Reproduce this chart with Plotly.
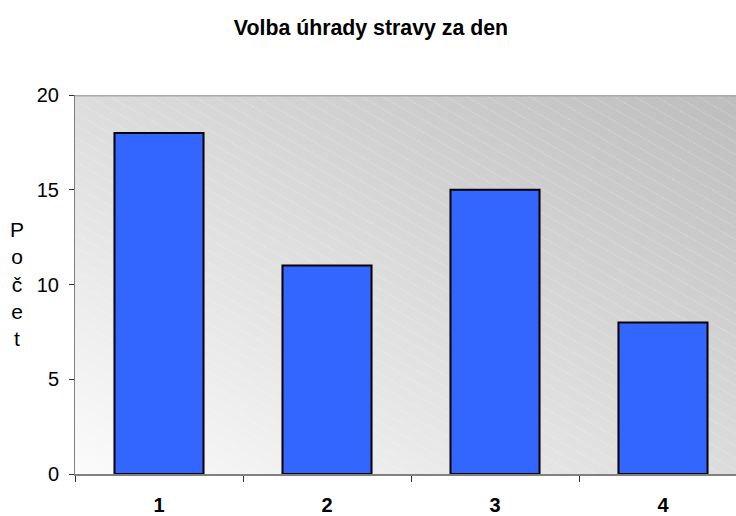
import base64
import plotly.graph_objects as go

# Data
categories = ["1", "2", "3", "4"]
counts = [18, 11, 15, 8]
y_ticks = [0, 5, 10, 15, 20]
title_text = "Volba úhrady stravy za den"
y_title_letters = ["P", "o", "č", "e", "t"]

W, H = 736, 516
ML, MR, MT, MB = 75, 0, 95, 42
PW, PH = W - ML - MR, H - MT - MB

svg = f"""<svg xmlns='http://www.w3.org/2000/svg' width='{PW}' height='{PH}' viewBox='0 0 {PW} {PH}' preserveAspectRatio='none'>
<defs>
<linearGradient id='g' x1='1' y1='0' x2='0' y2='1'>
<stop offset='0' stop-color='#bdbdbd'/>
<stop offset='1' stop-color='#fbfbfb'/>
</linearGradient>
<pattern id='p' patternUnits='userSpaceOnUse' width='40' height='10.5' patternTransform='rotate(30)'>
<line x1='0' y1='5' x2='40' y2='5' stroke='#ffffff' stroke-opacity='0.35' stroke-width='1' stroke-dasharray='1.5,1.5'/>
</pattern>
</defs>
<rect x='0' y='0' width='{PW}' height='{PH}' fill='url(#g)'/>
<rect x='0' y='0' width='{PW}' height='{PH}' fill='url(#p)'/>
<line x1='0' y1='0.75' x2='{PW}' y2='0.75' stroke='#a8a8a8' stroke-width='1.5'/>
</svg>"""
bg_uri = "data:image/svg+xml;base64," + base64.b64encode(svg.encode("utf-8")).decode("ascii")

FONT = "Arial, 'Liberation Sans', sans-serif"

fig = go.Figure()
fig.add_trace(go.Bar(
    x=categories, y=counts,
    marker=dict(color="#3366FF", line=dict(color="#000000", width=2)),
    width=0.53,
    hoverinfo="x+y",
))

fig.update_layout(
    width=W, height=H,
    margin=dict(l=ML, r=MR, t=MT, b=MB, pad=0, autoexpand=False),
    paper_bgcolor="#ffffff",
    plot_bgcolor="rgba(0,0,0,0)",
    showlegend=False,
    font=dict(family=FONT, color="#000000"),
    title=dict(
        text=title_text,
        x=0.504, xref="container", xanchor="center",
        y=1 - 28 / H, yref="container", yanchor="middle",
        font=dict(family=FONT, size=21.3, weight="bold", color="#000000"),
        automargin=False,
    ),
    images=[dict(
        source=bg_uri, xref="paper", yref="paper",
        x=0, y=1, sizex=1, sizey=1, xanchor="left", yanchor="top",
        sizing="stretch", layer="below",
    )],
    xaxis=dict(
        type="category",
        range=[-0.5, 3.5 - 11 / 168],
        tickson="boundaries",
        ticks="outside", ticklen=6, tickwidth=1, tickcolor="#303030",
        showline=True, linecolor="#808080", linewidth=2,
        showgrid=False, zeroline=False,
        tickfont=dict(family=FONT, size=20, weight="bold", color="#000000"),
        ticklabelstandoff=12,
        automargin=False,
    ),
    yaxis=dict(
        range=[0, 20],
        tickvals=y_ticks,
        ticks="outside", ticklen=5, tickwidth=1, tickcolor="#303030",
        showline=True, linecolor="#808080", linewidth=1,
        showgrid=False, zeroline=False,
        tickfont=dict(family=FONT, size=20, color="#000000"),
        ticklabelstandoff=6,
        automargin=False,
    ),
    annotations=[dict(
        text="<br>".join(y_title_letters),
        xref="paper", yref="paper",
        x=(17 - ML) / PW, y=(474 - 284) / PH,
        xanchor="center", yanchor="middle",
        showarrow=False,
        font=dict(family=FONT, size=21, color="#000000"),
    )],
)

fig.write_html(
    "out.html",
    config={"displayModeBar": False},
    post_script="document.body.style.margin='0';document.body.style.overflow='hidden';",
)
